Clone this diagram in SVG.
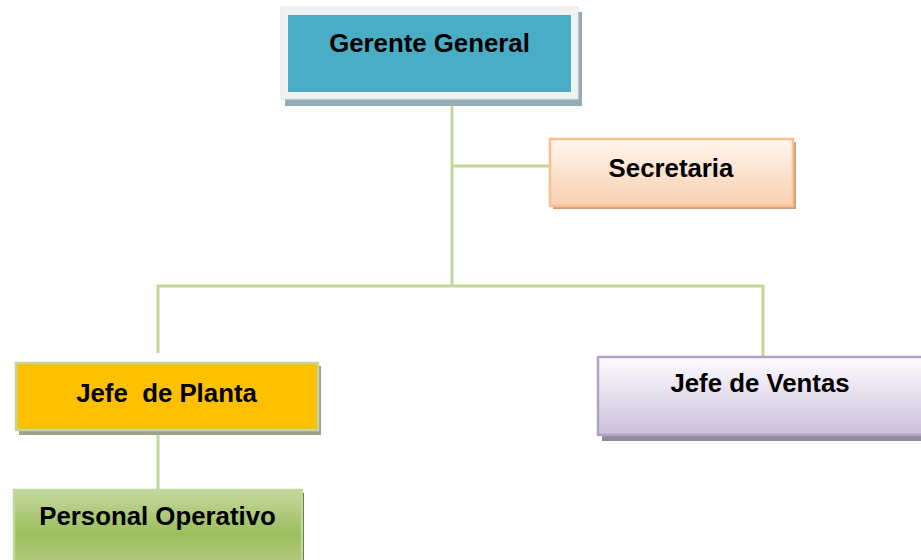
<svg xmlns="http://www.w3.org/2000/svg" width="921" height="560" viewBox="0 0 921 560">
  <defs>
    <linearGradient id="gSec" x1="0" y1="0" x2="0" y2="1">
      <stop offset="0" stop-color="#fff6ef"/>
      <stop offset="1" stop-color="#f9cfae"/>
    </linearGradient>
    <linearGradient id="gVen" x1="0" y1="0" x2="0" y2="1">
      <stop offset="0" stop-color="#fdfcfe"/>
      <stop offset="1" stop-color="#cbbfda"/>
    </linearGradient>
    <linearGradient id="gOp" x1="0" y1="0" x2="0" y2="1">
      <stop offset="0" stop-color="#c4d89e"/>
      <stop offset="0.55" stop-color="#9dbd5c"/>
      <stop offset="1" stop-color="#b7ce88"/>
    </linearGradient>
  </defs>
  <style>
    .lbl { font-family: "Liberation Sans", Arial, sans-serif; font-weight: bold; font-size: 25.8px; fill: #000; text-anchor: middle; white-space: pre; }
    .conn { stroke: #c3d69b; stroke-width: 3; fill: none; }
  </style>
  <rect width="921" height="560" fill="#ffffff"/>

  <g id="connectors">
    <path class="conn" d="M452 100 V286"/>
    <path class="conn" d="M452 166 H550"/>
    <path class="conn" d="M158 353 V286 H763 V356"/>
    <path class="conn" d="M158 425 V490"/>
  </g>

  <g id="gerente">
    <rect x="285" y="12" width="297" height="94" fill="#95abb6"/>
    <rect x="281" y="7" width="297" height="92" fill="#f2f2f2" stroke="#e2e6e8" stroke-width="1"/>
    <rect x="288" y="15" width="283" height="77" fill="#4bacc6"/>
    <text class="lbl" x="429.5" y="52">Gerente General</text>
  </g>

  <g id="secretaria">
    <rect x="553" y="142" width="243" height="67" fill="#c7a080"/>
    <rect x="550" y="139" width="243" height="67" fill="url(#gSec)" stroke="#fabf8f" stroke-width="2.5"/>
    <text class="lbl" x="671" y="177">Secretaria</text>
  </g>

  <g id="jefe-planta">
    <rect x="19" y="366" width="302" height="69" fill="#9ca38b"/>
    <rect x="16" y="363" width="302" height="67" fill="#ffc000" stroke="#c3d69b" stroke-width="2.5"/>
    <text class="lbl" x="166.5" y="402" xml:space="preserve">Jefe  de Planta</text>
  </g>

  <g id="jefe-ventas">
    <rect x="602" y="361" width="330" height="80" fill="#8e8a98"/>
    <rect x="598" y="357" width="330" height="78" fill="url(#gVen)" stroke="#b3a2c7" stroke-width="2.5"/>
    <text class="lbl" x="760" y="392">Jefe de Ventas</text>
  </g>

  <g id="personal-operativo">
    <rect x="17" y="493" width="287" height="80" fill="#4f6228"/>
    <rect x="14" y="490" width="288" height="80" fill="url(#gOp)" stroke="#c3d69b" stroke-width="2.5"/>
    <text class="lbl" x="157.5" y="525">Personal Operativo</text>
  </g>
</svg>
